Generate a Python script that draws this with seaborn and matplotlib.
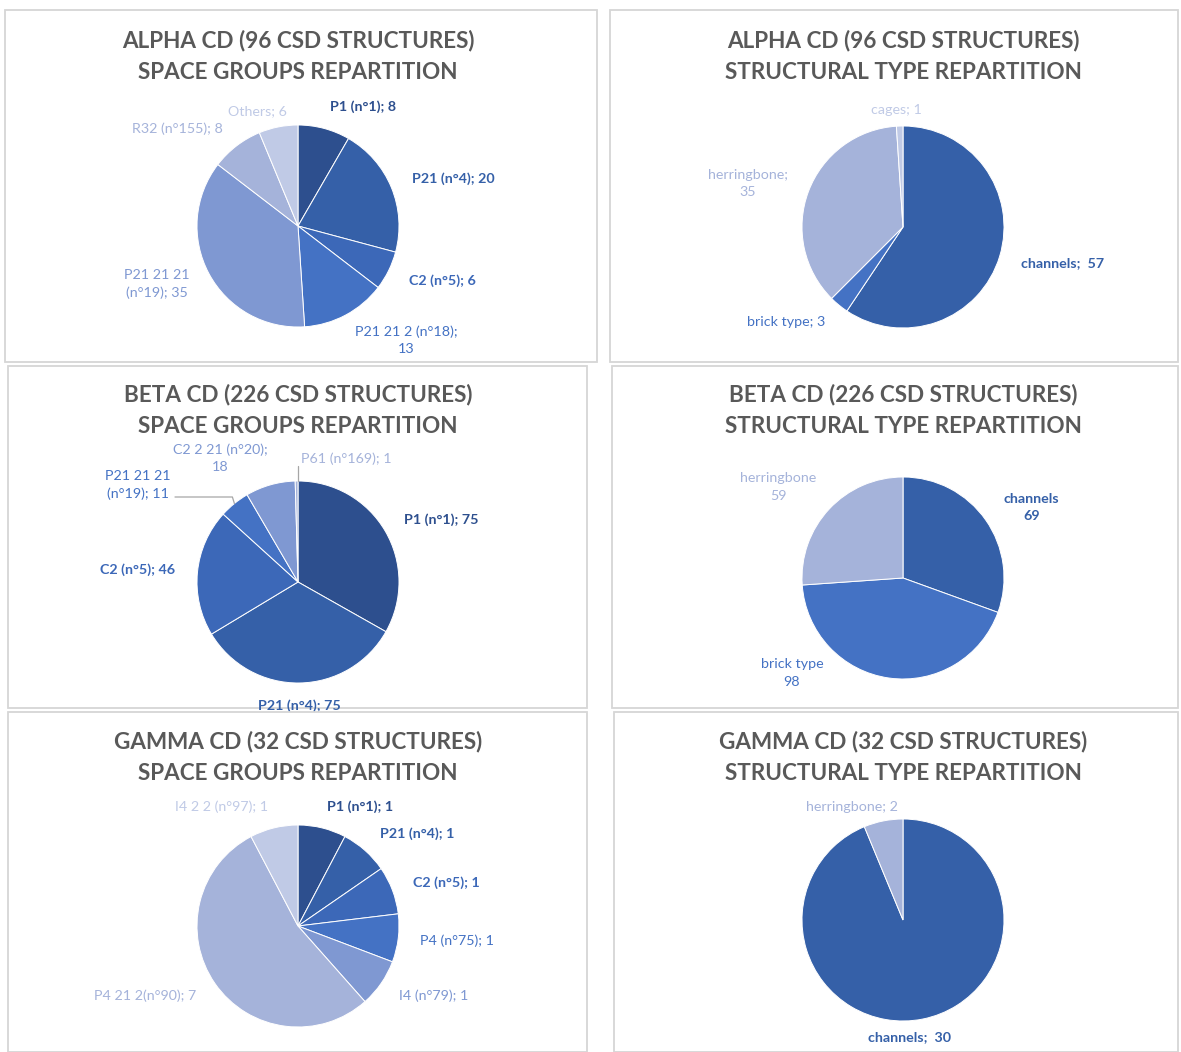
import matplotlib
matplotlib.use("Agg")
import matplotlib.pyplot as plt
from matplotlib.patches import Rectangle
import seaborn as sns
import numpy as np

# --- data -------------------------------------------------------------------
alpha_sg_names = ["P1 (n°1)", "P21 (n°4)", "C2 (n°5)", "P21 21 2 (n°18)",
                  "P21 21 21\n(n°19)", "R32 (n°155)", "Others"]
alpha_sg_values = [8, 20, 6, 13, 35, 8, 6]

alpha_st_names = ["channels", "brick type", "herringbone", "cages"]
alpha_st_values = [57, 3, 35, 1]

beta_sg_names = ["P1 (n°1)", "P21 (n°4)", "C2 (n°5)", "P21 21 21\n(n°19)",
                 "C2 2 21 (n°20)", "P61 (n°169)"]
beta_sg_values = [75, 75, 46, 11, 18, 1]

beta_st_names = ["channels", "brick type", "herringbone"]
beta_st_values = [69, 98, 59]

gamma_sg_names = ["P1 (n°1)", "P21 (n°4)", "C2 (n°5)", "P4 (n°75)",
                  "I4 (n°79)", "P4 21 2(n°90)", "I4 2 2 (n°97)"]
gamma_sg_values = [1, 1, 1, 1, 1, 7, 1]

gamma_st_names = ["channels", "herringbone"]
gamma_st_values = [30, 2]

# --- style --------------------------------------------------------------------
sns.set_theme(style="white")
plt.rcParams['font.family'] = ['Lato', 'DejaVu Sans']

DK, MD, MB, BR = "#2D4F8E", "#3560A8", "#3C68B8", "#4472C4"
L1, L2, L3 = "#7F98D2", "#A5B3DA", "#C0CAE6"
TITLE_COL = "#595959"
W, H = 1181, 1052

# label layout: moved labels are given in picture pixels (x, y, ha);
# leaders run from the given point to the slice edge
panels = [
    dict(title="ALPHA CD (96 CSD STRUCTURES)\nSPACE GROUPS REPARTITION",
         names=alpha_sg_names, values=alpha_sg_values,
         colors=[DK, MD, MB, BR, L1, L2, L3],
         seps=["; ", "; ", "; ", ";\n", "; ", "; ", "; "],
         box=(5, 10, 597, 362), center=(298, 226), r=101, title_y=56,
         moved={3: (406, 340, "center"), 6: (287, 111, "right")}),
    dict(title="ALPHA CD (96 CSD STRUCTURES)\nSTRUCTURAL TYPE REPARTITION",
         names=alpha_st_names, values=alpha_st_values,
         colors=[MD, BR, L2, L3],
         seps=[";  ", "; ", ";\n", "; "],
         box=(610, 10, 1178, 362), center=(903, 227), r=101, title_y=56,
         moved={3: (896, 110, "center")}),
    dict(title="BETA CD (226 CSD STRUCTURES)\nSPACE GROUPS REPARTITION",
         names=beta_sg_names, values=beta_sg_values,
         colors=[DK, MD, MB, BR, L1, L2],
         seps=["; ", "; ", "; ", "; ", ";\n", "; "],
         box=(8, 366, 587, 708), center=(298, 582), r=101, title_y=410,
         moved={3: (171, 485, "right"), 4: (220, 458, "center"),
                5: (301, 459, "left")},
         leaders={3: (175, 497, "knee"), 5: (298, 466, "straight")}),
    dict(title="BETA CD (226 CSD STRUCTURES)\nSTRUCTURAL TYPE REPARTITION",
         names=beta_st_names, values=beta_st_values,
         colors=[MD, BR, L2],
         seps=["\n", "\n", "\n"],
         box=(612, 366, 1178, 708), center=(903, 578), r=101, title_y=410,
         moved={1: (792, 673, "center"), 2: (778, 487, "center")}),
    dict(title="GAMMA CD (32 CSD STRUCTURES)\nSPACE GROUPS REPARTITION",
         names=gamma_sg_names, values=gamma_sg_values,
         colors=[DK, MD, MB, BR, L1, L2, L3],
         seps=["; "] * 7,
         box=(8, 712, 587, 1052), center=(298, 926), r=101, title_y=757),
    dict(title="GAMMA CD (32 CSD STRUCTURES)\nSTRUCTURAL TYPE REPARTITION",
         names=gamma_st_names, values=gamma_st_values,
         colors=[MD, L2],
         seps=[";  ", "; "],
         box=(614, 712, 1178, 1052), center=(903, 920), r=101, title_y=757,
         moved={0: (910, 1037, "center"), 1: (898, 807, "right")}),
]

fig = plt.figure(figsize=(W / 100, H / 100), dpi=100)

for p in panels:
    x0, y0, x1, y1 = p["box"]
    w, h = x1 - x0, y1 - y0
    ax = fig.add_axes([x0 / W, 1 - y1 / H, w / W, h / H])
    cx, cy = p["center"][0] - x0, y1 - p["center"][1]
    r = p["r"]
    wedges, _ = ax.pie(p["values"], colors=p["colors"], startangle=90,
                       counterclock=False, center=(cx, cy), radius=r,
                       wedgeprops=dict(edgecolor="white", linewidth=0.7))
    ax.set_xlim(0, w)
    ax.set_ylim(0, h)
    ax.axis("off")
    ax.add_patch(Rectangle((0, 0), w, h, fill=False, edgecolor="#D6D6D6",
                           linewidth=1.3, clip_on=False))
    ax.text(cx, y1 - p["title_y"], p["title"], ha="center", va="center",
            fontsize=16.2, fontweight="bold", color=TITLE_COL, linespacing=1.62)

    moved = p.get("moved", {})
    leaders = p.get("leaders", {})
    for i, (wdg, name, val, sep, col) in enumerate(
            zip(wedges, p["names"], p["values"], p["seps"], p["colors"])):
        ang = np.deg2rad((wdg.theta1 + wdg.theta2) / 2)
        dx, dy = np.cos(ang), np.sin(ang)
        if i in moved:
            tx, ty, ha = moved[i]
            tx, ty = tx - x0, y1 - ty
        else:
            d = 1.22
            tx, ty = cx + r * d * dx, cy + r * d * dy
            ha = "left" if dx > 0.2 else ("right" if dx < -0.2 else "center")
        ax.text(tx, ty, f"{name}{sep}{val}", ha=ha, va="center",
                multialignment="center", fontsize=10.3, color=col,
                linespacing=1.5,
                fontweight="bold" if col in (DK, MD, MB) else "normal")
        if i in leaders:
            lx, ly, kind = leaders[i]
            lx, ly = lx - x0, y1 - ly
            ex, ey = cx + r * dx, cy + r * dy
            if kind == "knee":
                xs, ys = [lx, ex - 2, ex], [ly, ly, ey]
            else:
                xs, ys = [lx, lx], [ly, ey]
            ax.plot(xs, ys, color="#A6A6A6", linewidth=0.9)

fig.savefig("out.png", dpi=100)
